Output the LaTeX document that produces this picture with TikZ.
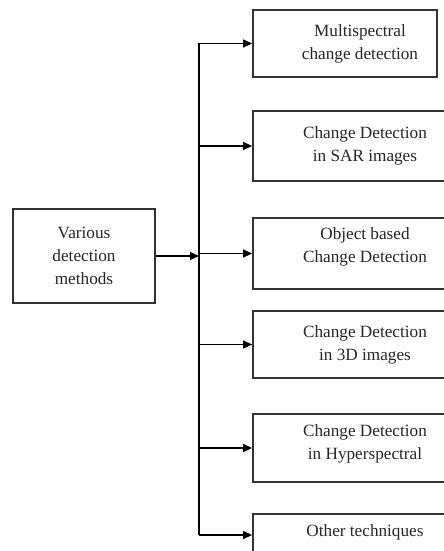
\documentclass[tikz,border=0pt]{standalone}
\usepackage{fontspec}
\setmainfont{Liberation Serif}
\usetikzlibrary{arrows.meta,positioning}
\tikzset{
    method/.style={
           rectangle,
           draw=black!80, line width=0.9pt,
           inner sep=0pt,
           },
    methodtext/.style={
           align=center,
           text=black!85,
           font=\fontsize{8.6}{11.5}\selectfont,
           inner sep=0pt,
           },
}

\begin{document}
\begin{tikzpicture}[x=0.5pt,y=-0.5pt,>={Triangle[length=4.5pt,width=4pt]},line width=0.6pt]
      \useasboundingbox (0,0) rectangle (444,551);

      % SOURCE BOX
      \node[method, methodtext,
          minimum width=71pt,
          minimum height=47pt] (various) at (84,256)
      {Various\\detection\\methods};

      % TARGET BOXES (text is set a bit right of the box centre)
      \node[method, minimum width=92pt, minimum height=33.5pt] (multi) at (345,43.5) {};
      \node[methodtext] (multi-txt) at (360,44) {Multispectral\\change detection};

      \node[method, minimum width=99.5pt, minimum height=35pt] (sar) at (352.5,146) {};
      \node[methodtext] (sar-txt) at (365,146) {Change Detection\\in SAR images};

      \node[method, minimum width=99.5pt, minimum height=35.5pt] (object) at (352.5,253.5) {};
      \node[methodtext] (object-txt) at (365,247) {Object based\\Change Detection};

      \node[method, minimum width=99.5pt, minimum height=33.5pt] (threed) at (352.5,344.5) {};
      \node[methodtext] (threed-txt) at (365,345) {Change Detection\\in 3D images};

      \node[method, minimum width=99.5pt, minimum height=34pt] (hyper) at (352.5,448) {};
      \node[methodtext] (hyper-txt) at (365,444) {Change Detection\\in Hyperspectral};

      \node[method, minimum width=99.5pt, minimum height=21pt] (other) at (352.5,535) {};
      \node[methodtext] (other-txt) at (365,532) {Other techniques};

      % TRUNK AND BRANCHES
      \coordinate (trunk) at (199,0);
      \draw (multi.west -| trunk) -- (other.west -| trunk);
      \draw[->] (various.east) -- (various.east -| trunk);
      \foreach \b in {multi,sar,object,threed,hyper,other}
          \draw[->] (\b.west -| trunk) -- (\b.west);

\end{tikzpicture}
\end{document}
